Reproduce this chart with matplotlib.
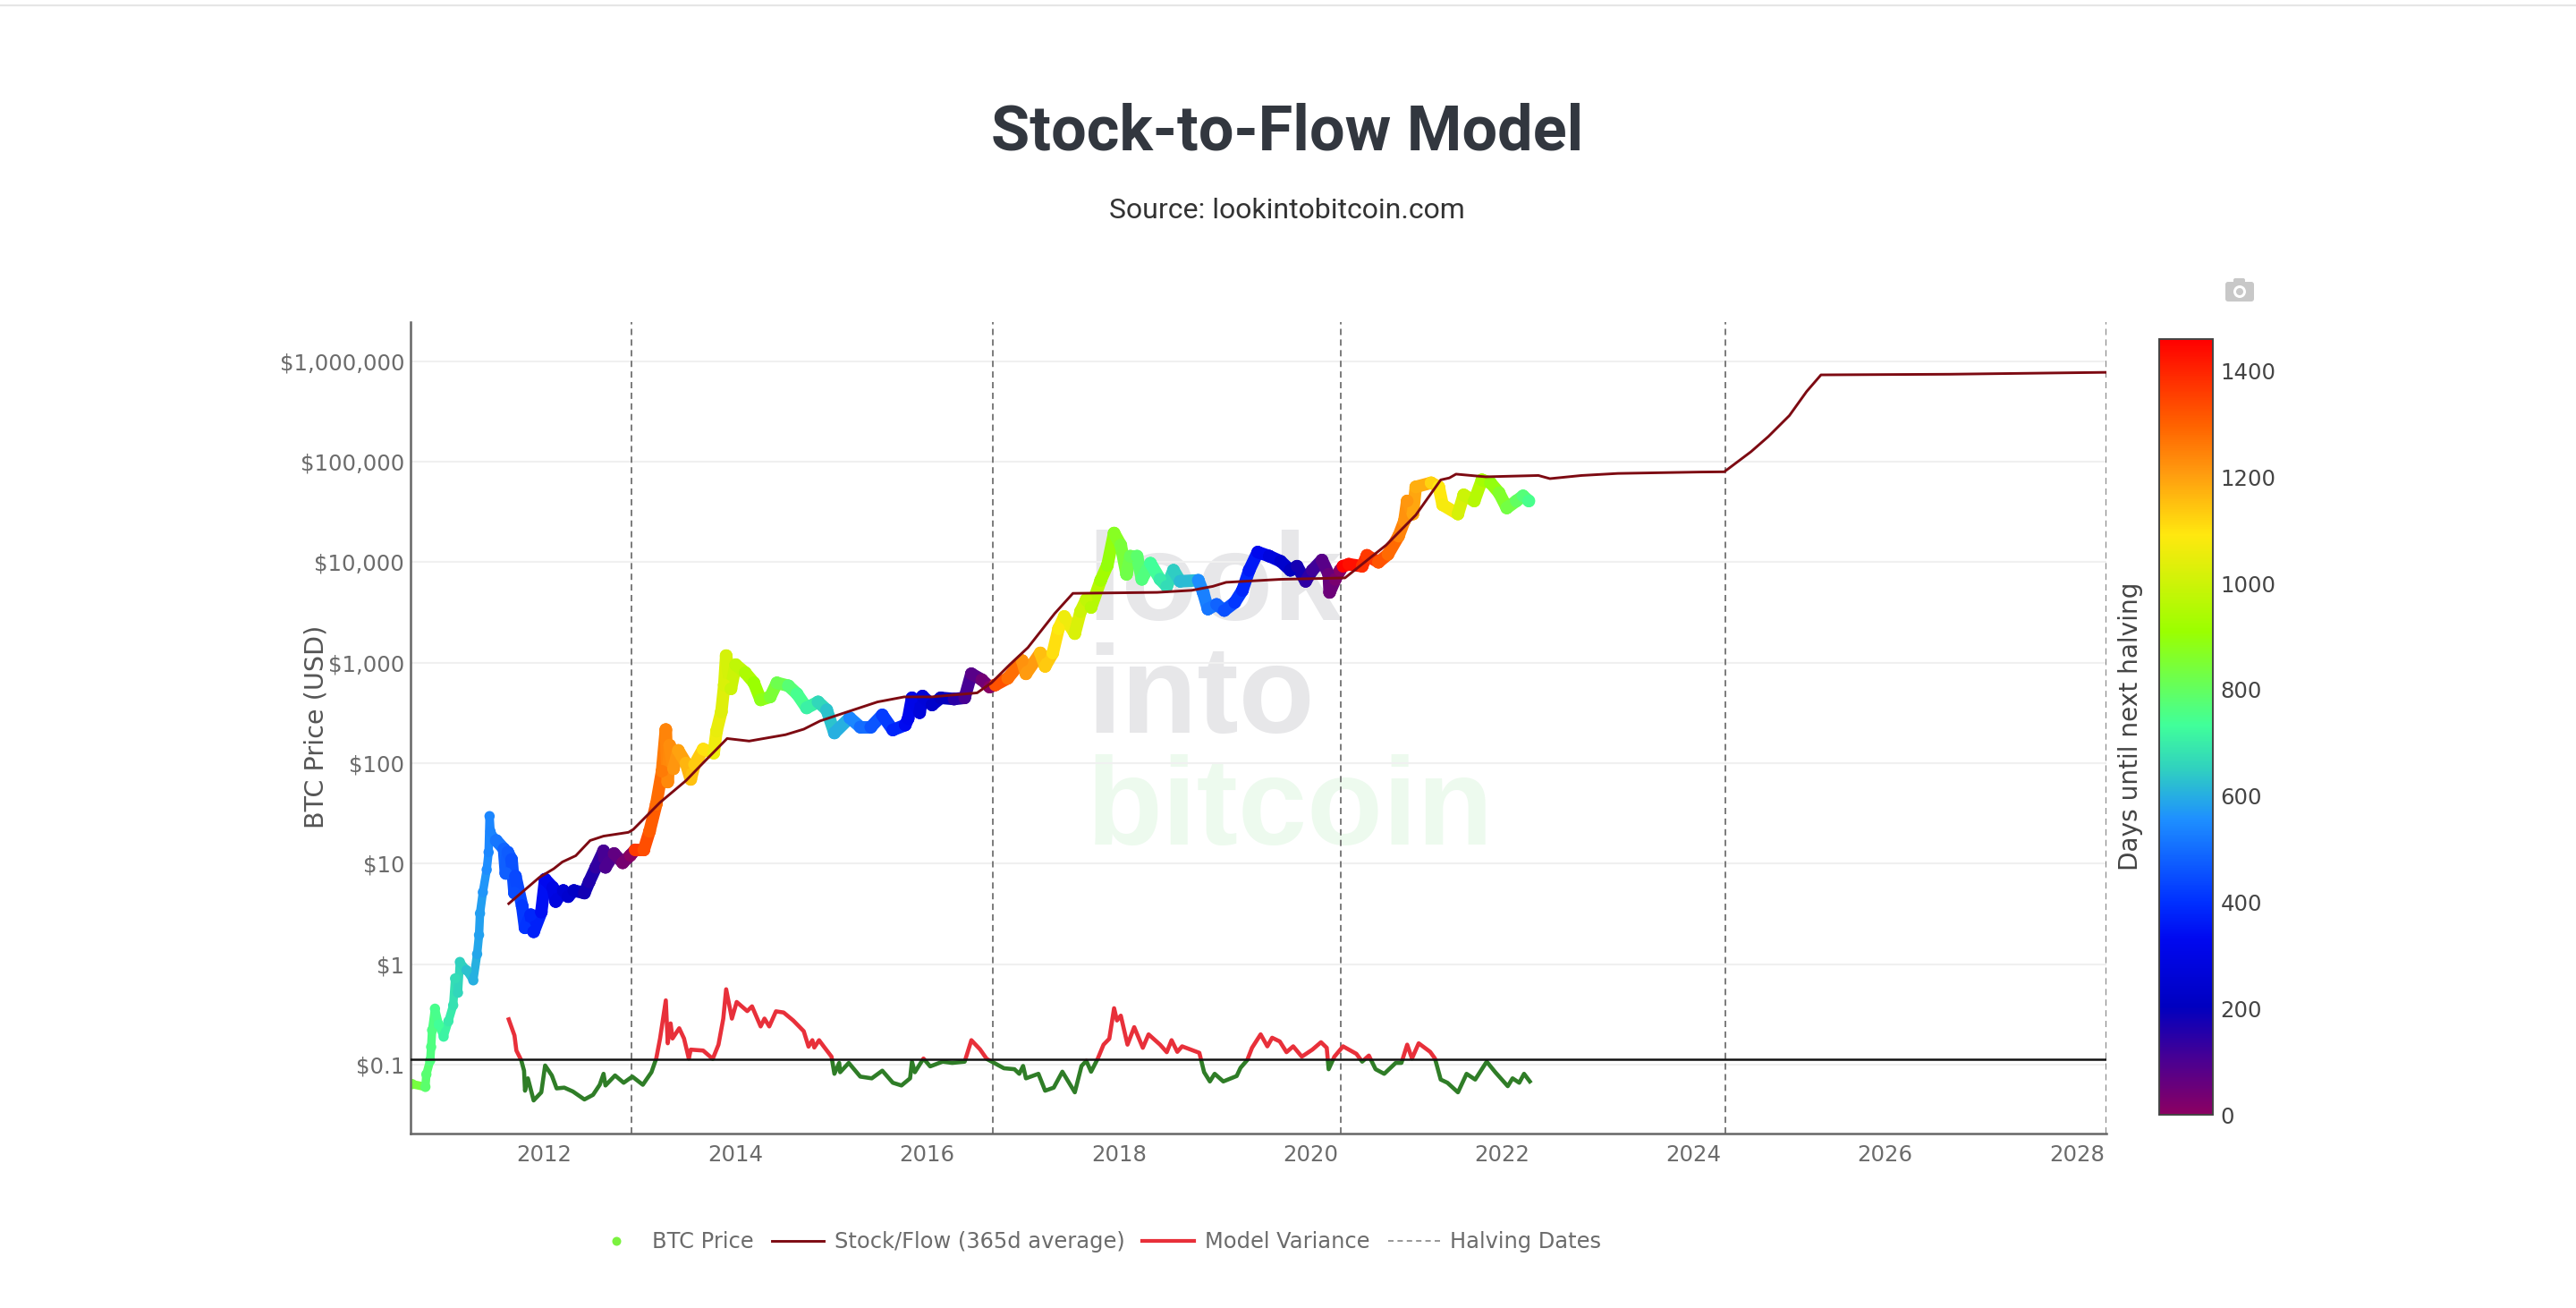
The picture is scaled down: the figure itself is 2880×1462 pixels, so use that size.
import numpy as np
import matplotlib
matplotlib.use("Agg")
import matplotlib.pyplot as plt
from matplotlib.collections import LineCollection
from matplotlib.colors import LinearSegmentedColormap, Normalize
from matplotlib.cm import ScalarMappable
from matplotlib.lines import Line2D
from matplotlib.patches import FancyBboxPatch, Circle, Rectangle
from matplotlib.transforms import IdentityTransform

W, H = 2880, 1462

# ---------- data ----------
btc_year = [
 2010.62,2010.76,2010.77,2010.81,2010.82,2010.83,2010.86,2010.90,2010.95,2011.00,
 2011.05,2011.07,2011.10,2011.12,2011.19,2011.26,2011.30,2011.32,2011.33,2011.36,
 2011.40,2011.42,2011.43,2011.44,2011.50,2011.58,2011.60,2011.62,2011.66,2011.69,
 2011.70,2011.77,2011.80,2011.86,2011.89,2011.97,2012.01,2012.09,2012.12,2012.20,
 2012.25,2012.31,2012.42,2012.47,2012.54,2012.62,2012.64,2012.73,2012.82,2012.90,
 2012.95,2013.04,2013.10,2013.17,2013.23,2013.27,2013.29,2013.31,2013.35,2013.40,
 2013.48,2013.53,2013.57,2013.66,2013.77,2013.80,2013.85,2013.88,2013.90,2013.95,
 2014.00,2014.10,2014.19,2014.26,2014.36,2014.43,2014.55,2014.64,2014.74,2014.86,
 2014.95,2015.03,2015.19,2015.30,2015.41,2015.53,2015.64,2015.77,2015.80,2015.84,
 2015.92,2015.95,2016.05,2016.14,2016.28,2016.39,2016.46,2016.57,2016.65,
 2016.71,2016.84,2016.99,2017.03,2017.18,2017.23,2017.31,2017.37,2017.43,2017.54,
 2017.60,2017.66,2017.71,2017.81,2017.88,2017.95,2018.02,2018.08,2018.12,2018.19,
 2018.24,2018.33,2018.43,2018.50,2018.57,2018.64,2018.83,2018.88,2018.93,2019.02,
 2019.10,2019.21,2019.29,2019.36,2019.45,2019.57,2019.69,2019.79,2019.86,2019.95,
 2020.02,2020.12,2020.19,2020.20,2020.26,2020.31,
 2020.34,2020.40,2020.54,2020.59,2020.71,2020.81,2020.92,2020.98,2021.01,2021.07,
 2021.10,2021.26,2021.34,2021.38,2021.54,2021.60,2021.71,2021.79,2021.88,2021.97,
 2022.05,2022.15,2022.22,2022.28]
btc_price = [
 0.064,0.06,0.08,0.11,0.15,0.22,0.36,0.25,0.19,0.27,
 0.39,0.72,0.52,1.05,0.87,0.69,1.26,1.95,3.2,5.2,
 8.7,13,29.7,21,17,14,8,13,11,5.1,
 7.5,3.8,2.3,3.1,2.1,3.3,7,5.8,4.2,5.4,
 4.7,5.4,5.1,6.6,9.2,13.4,9.2,12.6,10.2,12.1,
 13.7,13.7,21,39,83,216,65,151,88,134,
 100,69,97,138,126,209,325,600,1175,550,
 955,794,630,427,457,630,589,490,355,407,
 339,200,283,229,229,302,214,240,278,447,
 318,465,380,447,435,447,776,676,573,
 600,700,1050,776,1250,920,1250,2180,2880,1950,
 3240,4266,3548,6607,9330,19500,14800,7590,11500,11500,
 6760,9770,6760,5750,8320,6460,6610,5010,3420,3800,
 3310,3980,5250,8320,12600,11500,10200,8320,9120,6460,
 8320,10500,7590,5010,6760,8320,
 9120,9550,9120,11700,10000,12000,18200,25700,40700,30200,
 56200,61700,56200,37200,30200,46800,40700,66000,61700,49000,
 34700,40700,45700,40700]
btc_days = [
 836,785,781,767,763,759,748,734,715,697,
 679,672,661,653,628,602,588,580,577,566,
 551,544,540,537,515,485,478,471,456,445,
 441,416,405,383,372,343,329,300,288,259,
 241,219,179,161,135,106,99,66,33,4,
 1361,1329,1307,1281,1259,1245,1237,1230,1215,1197,
 1168,1150,1135,1102,1062,1051,1033,1022,1015,996,
 978,942,909,883,847,821,777,745,708,664,
 631,602,540,500,460,420,380,332,321,307,
 277,266,230,197,146,106,80,40,11,
 1325,1278,1223,1208,1153,1135,1106,1084,1062,1022,
 1000,978,960,923,898,872,845,825,810,785,
 766,734,697,672,646,620,551,533,515,482,
 453,412,383,358,325,281,237,201,175,142,
 117,80,55,51,29,11,
 1456,1434,1383,1365,1321,1285,1245,1223,1212,1190,
 1179,1121,1091,1077,1018,996,956,927,894,861,
 832,796,770,748]

sf_year = [2011.63,2011.95,2012.10,2012.19,2012.33,2012.48,2012.62,2012.88,2012.93,2013.21,2013.48,2013.67,2013.91,2014.14,2014.52,2014.71,2014.88,2015.10,2015.48,2015.76,2016.05,2016.52,2016.67,2016.86,2017.05,2017.33,2017.52,
           2018.40,2018.76,2018.98,2019.12,2019.69,2020.36,2020.79,2021.10,2021.36,2021.45,2021.52,2021.83,2022.38,2022.50,2022.83,2023.21,2024.06,2024.32,2024.60,2024.78,2025.00,2025.18,2025.33,2026.67,2028.31]
sf_value = [4,7.3,8.9,10.4,12,17,18.8,20.5,21.9,40.7,67,103,176,166,192,218,263,309,407,457,457,501,631,955,1413,3090,4900,
            5012,5250,5750,6310,6760,6980,14800,29500,66000,69000,75300,70800,73000,67900,73000,76500,79000,79400,126000,178000,288000,500000,732000,743000,776000]

var_year = [
 2011.63,2011.69,2011.71,2011.76,2011.79,2011.80,2011.83,2011.89,2011.97,2012.01,
 2012.08,2012.13,2012.21,2012.30,2012.42,2012.51,2012.58,2012.62,2012.64,2012.74,
 2012.83,2012.92,2013.03,2013.12,2013.17,2013.21,2013.27,2013.29,2013.32,2013.34,
 2013.41,2013.46,2013.51,2013.53,2013.66,2013.76,2013.82,2013.87,2013.90,2013.96,
 2014.01,2014.12,2014.17,2014.26,2014.30,2014.35,2014.42,2014.50,2014.60,2014.71,
 2014.76,2014.80,2014.82,2014.87,2014.92,2015.00,2015.03,2015.08,2015.09,2015.18,
 2015.30,2015.42,2015.53,2015.64,2015.73,2015.82,2015.84,2015.87,2015.96,2016.03,
 2016.16,2016.26,2016.39,2016.46,2016.55,2016.62,2016.80,2016.91,2016.96,2017.00,
 2017.03,2017.16,2017.23,2017.32,2017.41,2017.54,2017.61,2017.66,2017.71,2017.78,
 2017.84,2017.90,2017.95,2017.98,2018.02,2018.09,2018.16,2018.25,2018.31,2018.43,
 2018.50,2018.55,2018.61,2018.66,2018.84,2018.89,2018.95,2019.00,2019.09,2019.23,
 2019.27,2019.34,2019.39,2019.48,2019.55,2019.60,2019.68,2019.75,2019.82,2019.91,
 2020.02,2020.11,2020.17,2020.19,2020.25,2020.34,2020.48,2020.54,2020.61,2020.68,
 2020.77,2020.89,2020.95,2021.01,2021.06,2021.13,2021.25,2021.30,2021.36,2021.43,
 2021.54,2021.63,2021.72,2021.84,2021.93,2022.06,2022.11,2022.18,2022.23,2022.29]
var_value = [
 .282,.195,.138,.111,.087,.055,.073,.044,.053,.098,
 .078,.058,.059,.054,.045,.05,.063,.081,.062,.078,
 .066,.076,.063,.084,.115,.182,.436,.163,.257,.182,
 .23,.182,.115,.141,.138,.114,.158,.287,.562,.287,
 .42,.341,.38,.24,.287,.24,.339,.33,.275,.215,
 .151,.175,.148,.175,.151,.12,.081,.104,.084,.104,
 .076,.073,.087,.066,.062,.073,.107,.084,.115,.096,
 .107,.104,.107,.175,.142,.114,.092,.09,.081,.097,
 .073,.081,.055,.059,.085,.053,.097,.109,.085,.115,
 .158,.181,.364,.275,.307,.158,.236,.147,.2,.158,
 .133,.175,.134,.152,.131,.084,.068,.081,.068,.077,
 .093,.111,.147,.2,.152,.185,.17,.133,.152,.12,
 .141,.167,.147,.09,.12,.152,.128,.107,.123,.09,
 .081,.104,.104,.158,.115,.163,.134,.115,.071,.066,
 .053,.081,.071,.107,.084,.061,.073,.066,.081,.068]

variance_threshold = 0.114
halving_years = [2012.91, 2016.68, 2020.32, 2024.33, 2028.31]
x_ticks = [2012, 2014, 2016, 2018, 2020, 2022, 2024, 2026, 2028]
y_ticks = [0.1, 1, 10, 100, 1000, 10000, 100000, 1000000]
y_tick_labels = ["$0.1", "$1", "$10", "$100", "$1,000", "$10,000", "$100,000", "$1,000,000"]
cbar_ticks = [0, 200, 400, 600, 800, 1000, 1200, 1400]
legend_labels = ["BTC Price", "Stock/Flow (365d average)", "Model Variance", "Halving Dates"]
watermark_words = ["look", "into", "bitcoin"]

# ---------- styling ----------
cmap_stops = [(0, "#8b0062"), (100, "#4b0091"), (203, "#0000c0"), (330, "#0008f0"), (400, "#0030ff"),
              (557, "#1e90ff"), (650, "#30d0c0"), (733, "#40ff9a"), (910, "#9bff00"), (1092, "#ffe80f"),
              (1210, "#ff9a0f"), (1296, "#ff6400"), (1460, "#ff0000")]
DMAX = 1460
cmap = LinearSegmentedColormap.from_list("days", [(v / DMAX, c) for v, c in cmap_stops], N=512)
norm = Normalize(0, DMAX)
TICK = "#6b6b6b"

fig = plt.figure(figsize=(W / 200, H / 200), dpi=200, facecolor="white")
ax = fig.add_axes([459 / W, 1 - 1267 / H, (2355 - 459) / W, (1267 - 360) / H])
ax.set_yscale("log")
ax.set_xlim(2010.605, 2028.31)
ax.set_ylim(10 ** -1.686, 10 ** 6.39)

for s in ("top", "right"):
    ax.spines[s].set_visible(False)
for s in ("left", "bottom"):
    ax.spines[s].set_color("#666666")
    ax.spines[s].set_linewidth(0.9)

ax.set_xticks(x_ticks)
ax.set_xticklabels([str(t) for t in x_ticks])
ax.set_yticks(y_ticks)
ax.set_yticklabels(y_tick_labels)
ax.minorticks_off()
ax.tick_params(axis="both", length=0, labelsize=8.8, labelcolor=TICK)
ax.tick_params(axis="x", pad=4.5)
ax.tick_params(axis="y", pad=2.5)
ax.grid(axis="y", color="#f0f0f0", lw=0.75, zorder=0)
ax.set_axisbelow(True)
ax.set_ylabel("BTC Price (USD)", fontsize=10.3, color="#555555")
ax.yaxis.set_label_coords((368 - 459) / (2355 - 459), 0.5017)

# watermark
for word, base, col in zip(watermark_words, (693, 819, 944), ("#e7e7e9", "#e7e7e9", "#edfaee")):
    ax.text(1215 / W, 1 - base / H, word, transform=fig.transFigure, fontsize=50, fontweight="bold",
            family="Liberation Sans", color=col, ha="left", va="baseline", zorder=0.5, clip_on=False)

# halvings
for xh in halving_years:
    ax.axvline(xh, color="#777777", lw=0.68, dashes=(3.7, 2.6), zorder=1.5)

# price
yrs = np.array(btc_year); prc = np.array(btc_price); dys = np.array(btc_days, float)
pts = np.column_stack([yrs, prc])
segs = np.stack([pts[:-1], pts[1:]], axis=1)
seg_vals = dys[:-1]
widths = np.where(yrs[:-1] < 2011.45, 3.4, 5.0)
lc = LineCollection(segs, cmap=cmap, norm=norm, linewidths=widths, capstyle="round", zorder=2)
lc.set_array(seg_vals)
ax.add_collection(lc)
sizes = np.where(yrs < 2011.45, 17, 26)
ax.scatter(yrs, prc, c=dys, cmap=cmap, norm=norm, s=sizes, linewidths=0, zorder=2.1)

# variance: red above threshold, green below
vl_r, = ax.plot(var_year, var_value, color="#e8303a", lw=1.65, zorder=3, solid_joinstyle="round")
vl_g, = ax.plot(var_year, var_value, color="#2f7d27", lw=1.65, zorder=3, solid_joinstyle="round")
vl_r.set_clip_path(Rectangle((2010, variance_threshold), 20, 1e6, transform=ax.transData))
vl_g.set_clip_path(Rectangle((2010, 1e-3), 20, variance_threshold - 1e-3, transform=ax.transData))

ax.axhline(variance_threshold, color="#111111", lw=0.9, zorder=3.5)

# S/F
ax.plot(sf_year, sf_value, color="#7d0a12", lw=1.05, zorder=4, solid_joinstyle="round")

# legend
handles = [Line2D([], [], ls="none", marker="o", ms=3.6, mec="none", mfc="#7bf23f"),
           Line2D([], [], color="#7d0a12", lw=1.05),
           Line2D([], [], color="#e8303a", lw=1.5),
           Line2D([], [], color="#999999", lw=0.72, dashes=(3, 2.2))]
leg = ax.legend(handles, legend_labels, ncol=4, frameon=False, fontsize=8.7, labelcolor=TICK,
                loc="center", bbox_to_anchor=((1225 - 459) / (2355 - 459), (1267 - 1388) / (1267 - 360)),
                handlelength=2.4, handletextpad=0.48, columnspacing=0.83, borderpad=0, borderaxespad=0)

# colourbar
cax = fig.add_axes([2414 / W, 1 - 1246 / H, (2474 - 2414) / W, (1246 - 379) / H])
sm = ScalarMappable(norm=norm, cmap=cmap)
cb = fig.colorbar(sm, cax=cax)
cb.set_ticks(cbar_ticks)
cb.ax.tick_params(length=0, labelsize=8.8, labelcolor="#444444", pad=3)
cb.outline.set_edgecolor("#444444")
cb.outline.set_linewidth(0.7)
fig.text(2382 / W, 1 - 812 / H, "Days until next halving", rotation=90, fontsize=10.1, color="#444444", ha="center", va="center")

# titles
fig.text(1439 / W, 1 - 167 / H, "Stock-to-Flow Model", fontsize=25.3, fontweight="bold", family="Roboto",
         color="#32373f", ha="center", va="baseline")
fig.text(1439 / W, 1 - 244 / H, "Source: lookintobitcoin.com", fontsize=11.5, family="Roboto",
         color="#333333", ha="center", va="baseline")

# top rule and camera icon (pixel coordinates)
fig.add_artist(Line2D([0, 1], [1 - 6 / H, 1 - 6 / H], color="#e6e6e6", lw=0.8))
id_t = IdentityTransform()
fig.add_artist(FancyBboxPatch((2488, H - 337), 32, 22, boxstyle="round,pad=0,rounding_size=3",
                              fc="#c8c8c8", ec="none", transform=id_t))
fig.add_artist(FancyBboxPatch((2497, H - 317), 13, 6, boxstyle="round,pad=0,rounding_size=2",
                              fc="#c8c8c8", ec="none", transform=id_t))
fig.add_artist(Circle((2504, H - 326), 7, fc="white", ec="none", transform=id_t))
fig.add_artist(Circle((2504, H - 326), 4, fc="#c8c8c8", ec="none", transform=id_t))

fig.savefig("out.png", dpi=200, facecolor="white")
